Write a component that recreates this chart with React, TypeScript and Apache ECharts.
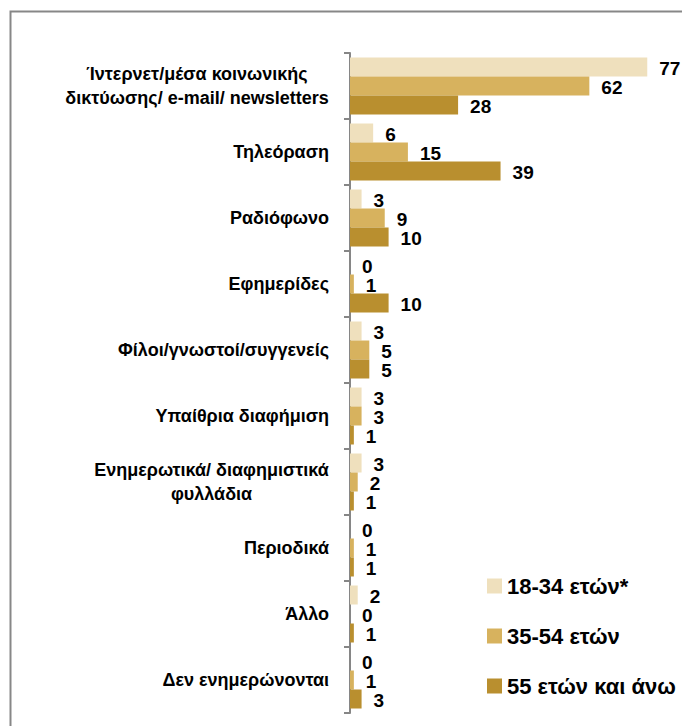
import React, { useEffect, useRef } from "react";
import * as echarts from "echarts";

const categories = [
  "Ίντερνετ/μέσα κοινωνικής\nδικτύωσης/ e-mail/ newsletters",
  "Τηλεόραση",
  "Ραδιόφωνο",
  "Εφημερίδες",
  "Φίλοι/γνωστοί/συγγενείς",
  "Υπαίθρια διαφήμιση",
  "Ενημερωτικά/ διαφημιστικά\nφυλλάδια",
  "Περιοδικά",
  "Άλλο",
  "Δεν ενημερώνονται",
];

const seriesNames = ["18-34 ετών*", "35-54 ετών", "55 ετών και άνω"];
const young = [77, 6, 3, 0, 3, 3, 3, 0, 2, 0];
const middle = [62, 15, 9, 1, 5, 3, 2, 1, 0, 1];
const older = [28, 39, 10, 10, 5, 1, 1, 1, 1, 3];

const colors = ["#EFE0BD", "#D7B25E", "#B98F2F"];
const FONT = "Liberation Sans";
const CAT_SIZE = 18;

export default function App() {
  const ref = useRef<HTMLDivElement>(null);
  useEffect(() => {
    if (!ref.current) return;
    const chart = echarts.init(ref.current, undefined, { renderer: "svg" });

    const ctx = document.createElement("canvas").getContext("2d")!;
    ctx.font = `bold ${CAT_SIZE}px "${FONT}"`;
    const rich: Record<string, any> = {};
    categories.forEach((c, i) => {
      if (c.includes("\n")) {
        const w = Math.max(...c.split("\n").map((l) => ctx.measureText(l).width));
        rich["m" + i] = {
          width: Math.ceil(w),
          align: "center",
          fontSize: CAT_SIZE,
          fontWeight: "bold",
          fontFamily: FONT,
          color: "#000",
          lineHeight: 24,
        };
      }
    });

    const data = [young, middle, older];
    chart.setOption({
      animation: false,
      graphic: [
        {
          type: "rect",
          silent: true,
          shape: { x: 10.5, y: 11.5, width: 900, height: 900 },
          style: { fill: "none", stroke: "#878787", lineWidth: 2 },
        },
      ],
      grid: { left: 350, top: 53, height: 660, right: 0 },
      legend: {
        orient: "vertical",
        left: 482,
        top: 570,
        itemWidth: 15,
        itemHeight: 15,
        itemGap: 28,
        icon: "rect",
        data: seriesNames,
        textStyle: {
          fontSize: 22,
          fontWeight: "bold",
          fontFamily: FONT,
          color: "#000",
          lineHeight: 22,
        },
      },
      xAxis: { type: "value", min: 0, max: 86, show: false },
      yAxis: {
        type: "category",
        inverse: true,
        data: categories,
        axisLine: { show: true, lineStyle: { color: "#868686", width: 2 } },
        axisTick: { show: true, length: 6, lineStyle: { color: "#868686", width: 2 } },
        axisLabel: {
          margin: 21,
          fontSize: CAT_SIZE,
          fontWeight: "bold",
          fontFamily: FONT,
          color: "#000",
          lineHeight: 24,
          formatter: (v: string, idx: number) => {
            if (rich["m" + idx]) {
              return v
                .split("\n")
                .map((l) => `{m${idx}|${l}}`)
                .join("\n");
            }
            return v;
          },
          rich,
        },
      },
      series: seriesNames.map((name, k) => ({
        name,
        type: "bar",
        data: data[k],
        barWidth: 19,
        barGap: "0%",
        itemStyle: { color: colors[k] },
        label: {
          show: true,
          position: "right",
          distance: 12,
          fontSize: 19,
          fontWeight: "bold",
          fontFamily: FONT,
          color: "#000",
          offset: [0, 1],
        },
      })),
    });
    return () => chart.dispose();
  }, []);
  return (
    <div
      ref={ref}
      style={{ position: "absolute", left: 0, top: 0, width: 682, height: 726, background: "#fff" }}
    />
  );
}
